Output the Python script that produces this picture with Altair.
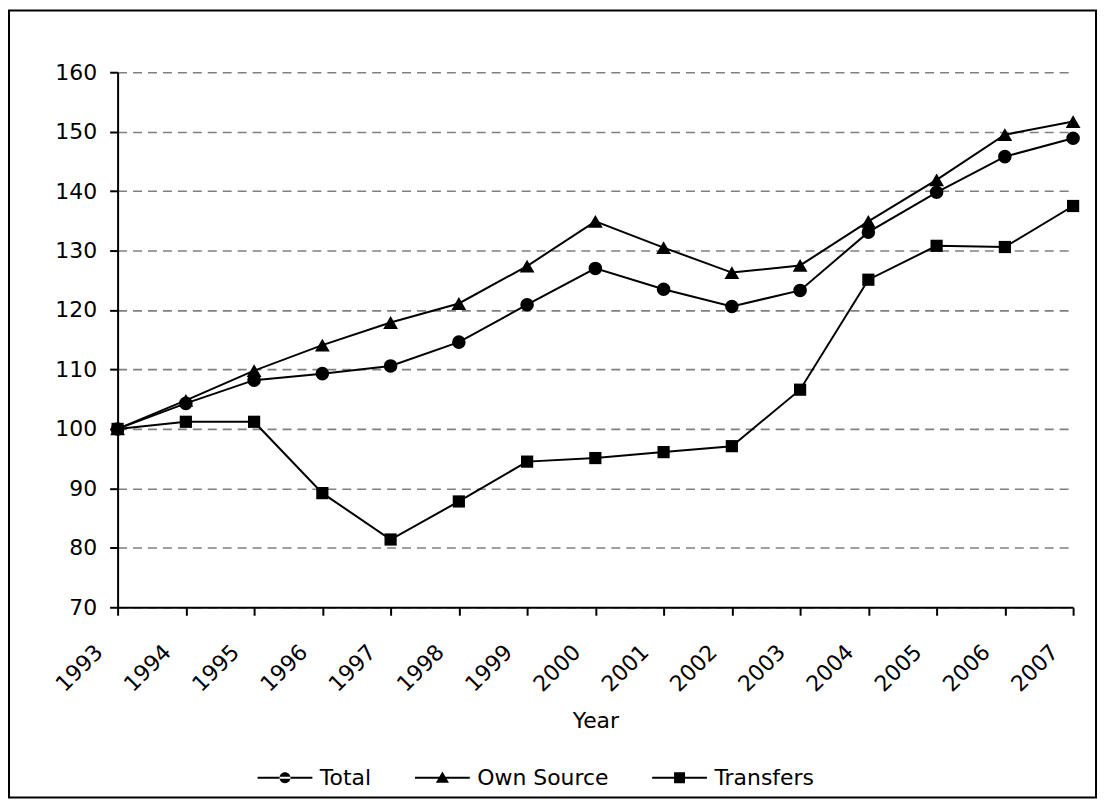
import altair as alt
import pandas as pd

years = [str(y) for y in range(1993, 2008)]
total = [100, 104.3, 108.2, 109.3, 110.6, 114.6, 120.9, 127.0, 123.5, 120.6, 123.3, 133.1, 139.8, 145.8, 148.9]
own_source = [100, 104.8, 109.8, 114.1, 117.9, 121.1, 127.4, 134.9, 130.5, 126.3, 127.5, 134.9, 141.9, 149.5, 151.7]
transfers = [100, 101.2, 101.2, 89.2, 81.4, 87.8, 94.5, 95.1, 96.1, 97.1, 106.6, 125.1, 130.8, 130.6, 137.5]
series_names = ["Total", "Own Source", "Transfers"]
y_ticks = [70, 80, 90, 100, 110, 120, 130, 140, 150, 160]

rows = []
for name, vals in zip(series_names, [total, own_source, transfers]):
    for yr, v in zip(years, vals):
        rows.append({"Year": yr, "Series": name, "Marker": name, "Value": v})
df = pd.DataFrame(rows)

W, H = 959, 537
FONT = "DejaVu Sans"

x_enc = alt.X(
    "Year:O",
    sort=years,
    scale=alt.Scale(type="point", padding=0),
    axis=alt.Axis(
        title="Year",
        titleFont=FONT, titleFontSize=22, titleFontWeight="normal", titleColor="black",
        titleY=121, titleBaseline="alphabetic",
        labelFont=FONT, labelFontSize=22, labelColor="black",
        labelAngle=315, labelAlign="right", labelBaseline="middle",
        labelPadding=33, labelOffset=-19, labelOverlap=False, labelBound=False,
        tickSize=8, tickWidth=2, tickColor="black",
        domainColor="black", domainWidth=2, grid=False,
    ),
)
y_enc = alt.Y(
    "Value:Q",
    scale=alt.Scale(domain=[70, 160], nice=False, zero=False),
    axis=alt.Axis(
        title=None, values=y_ticks,
        labelFont=FONT, labelFontSize=22, labelColor="black", labelPadding=13,
        tickSize=8, tickWidth=2, tickColor="black",
        domainColor="black", domainWidth=2,
        grid=True, gridColor="#808080", gridDash=[9, 6], gridWidth=1.6,
    ),
)

base = alt.Chart(df)

lines = base.mark_line(color="black", strokeWidth=2).encode(
    x=x_enc, y=y_enc, detail="Series:N"
)

# legend symbols: a short horizontal bar (the line) plus the marker, fill only
bar = "M-5,-0.18H5V0.18H-5Z"
p_circle = bar + "M-1,0A1,1,0,1,0,1,0A1,1,0,1,0,-1,0Z"
p_tri = bar + "M0,-1.1L1.2,0.95L-1.2,0.95Z"
p_sq = bar + "M-1,-1H1V1H-1Z"
shape_signal = (
    f"datum.value === 'Total' ? '{p_circle}' : "
    f"(datum.value === 'Own Source' ? '{p_tri}' : '{p_sq}')"
)

# marker scales use the data-derived (alphabetical) domain: Own Source, Total, Transfers
points = base.mark_point(filled=True, opacity=1).encode(
    x=x_enc, y=y_enc,
    size=alt.Size("Marker:N", scale=alt.Scale(range=[220, 150, 140]), legend=None),
    shape=alt.Shape(
        "Marker:N",
        scale=alt.Scale(range=["triangle-up", "circle", "square"]),
        legend=None,
    ),
    color=alt.Color(
        "Series:N",
        scale=alt.Scale(domain=series_names, range=["black", "black", "black"]),
        legend=alt.Legend(
            title=None, orient="none", legendX=135, legendY=697,
            direction="horizontal", columns=3, padding=0,
            symbolType={"expr": shape_signal},
            symbolSize=121, symbolOffset=22, symbolOpacity=1,
            symbolFillColor="black", symbolStrokeWidth=0,
            labelFont=FONT, labelFontSize=22, labelColor="black", labelOffset=24,
            columnPadding=38,
        ),
    ),
)

border = alt.Chart(pd.DataFrame({"b": [0]})).mark_rect(
    fillOpacity=0, stroke="black", strokeWidth=2
).encode(
    x=alt.value(-109), x2=alt.value(982), y=alt.value(-62), y2=alt.value(728)
)

chart = alt.layer(border, lines, points).properties(
    width=W, height=H,
    padding={"left": 110, "top": 63, "right": 30, "bottom": 200},
    autosize=alt.AutoSizeParams(type="none"),
    background="white",
).configure_view(stroke=None)

chart.save("out.html", embed_options={"renderer": "svg", "actions": False})
